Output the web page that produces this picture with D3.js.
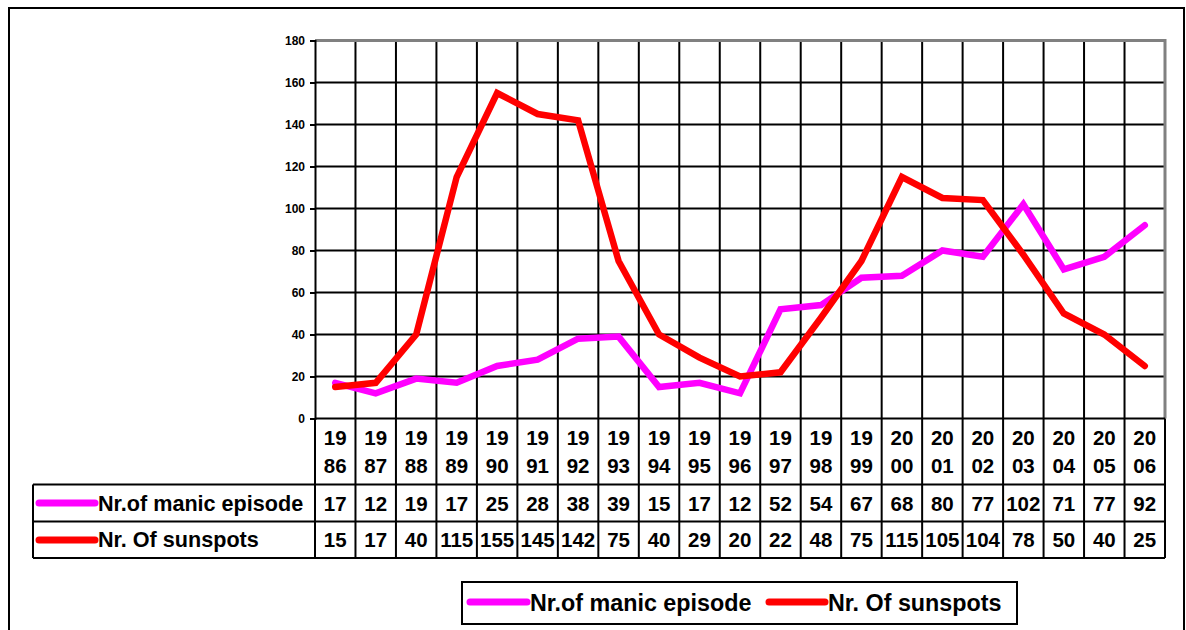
<!DOCTYPE html>
<html>
<head>
<meta charset="utf-8">
<script src="https://cdn.jsdelivr.net/npm/d3@7"></script>
<style>
  html, body { margin: 0; padding: 0; background: #fff; }
  svg text { font-family: "Liberation Sans", Arial, sans-serif; font-weight: bold; fill: #000; }
</style>
</head>
<body>
<svg id="chart" width="1186" height="630"></svg>
<script>
// Yearly figures
const years = ["1986","1987","1988","1989","1990","1991","1992","1993","1994","1995","1996",
               "1997","1998","1999","2000","2001","2002","2003","2004","2005","2006"];
const manicEpisodes = [17,12,19,17,25,28,38,39,15,17,12,52,54,67,68,80,77,102,71,77,92];
const sunspots      = [15,17,40,115,155,145,142,75,40,29,20,22,48,75,115,105,104,78,50,40,25];
const yTicks = [0,20,40,60,80,100,120,140,160,180];
const seriesNames = ["Nr.of manic episode", "Nr. Of sunspots"];
const seriesColors = ["#ff00ff", "#ff0000"];

const svg = d3.select("#chart");

// layout
const plot = { left: 315, right: 1165, top: 40.5, bottom: 418.5 };
const table = { left: 33, rowYearBottom: 484.5, rowManicBottom: 521.5, rowSunBottom: 558 };

const x = d3.scaleBand().domain(years).range([plot.left, plot.right]).padding(0);
const y = d3.scaleLinear().domain([0, 180]).range([plot.bottom, plot.top]);
const cx = d => x(d) + x.bandwidth() / 2;

// outer frame
svg.append("rect")
  .attr("x", 9).attr("y", 8).attr("width", 1175).attr("height", 630)
  .attr("fill", "none").attr("stroke", "#000").attr("stroke-width", 2);

// horizontal gridlines
svg.append("g").selectAll("line")
  .data(yTicks.filter(t => t > 0 && t < 180))
  .join("line")
  .attr("x1", plot.left).attr("x2", plot.right)
  .attr("y1", d => y(d)).attr("y2", d => y(d))
  .attr("stroke", "#000").attr("stroke-width", 2);

// vertical gridlines (column boundaries) through the plot and the table
const boundaries = years.map(d => x(d)).concat([plot.right]);
svg.append("g").selectAll("line")
  .data(boundaries.slice(1, -1))
  .join("line")
  .attr("x1", d => d).attr("x2", d => d)
  .attr("y1", plot.top).attr("y2", table.rowSunBottom)
  .attr("stroke", "#000").attr("stroke-width", 2);

// plot area top/right border (grey)
svg.append("path")
  .attr("d", `M${plot.left},${plot.top}H${plot.right}V${plot.bottom}`)
  .attr("fill", "none").attr("stroke", "#808080").attr("stroke-width", 3);

// y axis
const yAxis = d3.axisLeft(y).tickValues(yTicks).tickSize(5).tickPadding(5);
const gy = svg.append("g").attr("transform", `translate(${plot.left},0)`).call(yAxis);
gy.select(".domain").attr("stroke", "#000").attr("stroke-width", 2);
gy.selectAll(".tick line").attr("stroke", "#000").attr("stroke-width", 2);
gy.selectAll(".tick text")
  .attr("font-size", 12).attr("font-weight", "bold")
  .attr("font-family", "Liberation Sans, Arial, sans-serif").attr("fill", "#000");

// data table grid
const tg = svg.append("g").attr("stroke", "#000").attr("stroke-width", 2).attr("fill", "none");
tg.append("line").attr("x1", plot.left).attr("x2", plot.right).attr("y1", plot.bottom).attr("y2", plot.bottom);
[table.rowYearBottom, table.rowManicBottom, table.rowSunBottom].forEach(yy => {
  tg.append("line").attr("x1", table.left).attr("x2", plot.right).attr("y1", yy).attr("y2", yy);
});
tg.append("line").attr("x1", table.left).attr("x2", table.left).attr("y1", table.rowYearBottom).attr("y2", table.rowSunBottom);
tg.append("line").attr("x1", plot.left).attr("x2", plot.left).attr("y1", plot.bottom).attr("y2", table.rowSunBottom);
tg.append("line").attr("x1", plot.right).attr("x2", plot.right).attr("y1", plot.bottom).attr("y2", table.rowSunBottom);

// year labels, split over two lines
const yearCells = svg.append("g").selectAll("g").data(years).join("g");
yearCells.append("text").attr("x", d => cx(d)).attr("y", 445).attr("text-anchor", "middle")
  .attr("font-size", 20.5).text(d => d.slice(0, 2));
yearCells.append("text").attr("x", d => cx(d)).attr("y", 472.5).attr("text-anchor", "middle")
  .attr("font-size", 20.5).text(d => d.slice(2));

// value rows
const rows = [
  { values: manicEpisodes, base: 510.5, keyY: 503 },
  { values: sunspots,      base: 547,   keyY: 540 }
];
rows.forEach((r, i) => {
  svg.append("g").selectAll("text").data(r.values).join("text")
    .attr("x", (d, j) => cx(years[j])).attr("y", r.base).attr("text-anchor", "middle")
    .attr("font-size", 20.5).text(d => d);
  svg.append("line").attr("x1", 39).attr("x2", 95).attr("y1", r.keyY).attr("y2", r.keyY)
    .attr("stroke", seriesColors[i]).attr("stroke-width", 7).attr("stroke-linecap", "round");
  svg.append("text").attr("x", 98).attr("y", r.base).attr("font-size", 21.6).text(seriesNames[i]);
});

// series lines
const line = d3.line().x((d, j) => cx(years[j])).y(d => y(d));
[manicEpisodes, sunspots].forEach((vals, i) => {
  svg.append("path").datum(vals).attr("d", line)
    .attr("fill", "none").attr("stroke", seriesColors[i]).attr("stroke-width", 6.5)
    .attr("stroke-linejoin", "miter").attr("stroke-linecap", "round");
});

// legend
const lg = svg.append("g");
lg.append("rect").attr("x", 462).attr("y", 582).attr("width", 555).attr("height", 42)
  .attr("fill", "#fff").attr("stroke", "#000").attr("stroke-width", 2);
const legendItems = [
  { name: seriesNames[0], color: seriesColors[0], x0: 470, x1: 527, tx: 530 },
  { name: seriesNames[1], color: seriesColors[1], x0: 769, x1: 825, tx: 828 }
];
legendItems.forEach(it => {
  lg.append("line").attr("x1", it.x0).attr("x2", it.x1).attr("y1", 602).attr("y2", 602)
    .attr("stroke", it.color).attr("stroke-width", 7).attr("stroke-linecap", "round");
  lg.append("text").attr("x", it.tx).attr("y", 610.5).attr("font-size", 23.3).text(it.name);
});
</script>
</body>
</html>
